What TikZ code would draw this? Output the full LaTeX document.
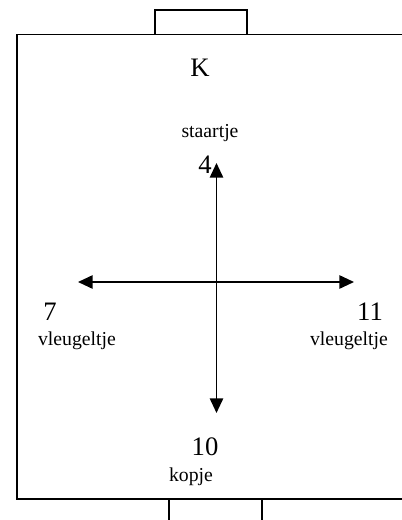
\documentclass[tikz,border=0pt]{standalone}
\usepackage{fontspec}
\setmainfont{Liberation Serif}
\usetikzlibrary{arrows.meta, positioning}

\begin{document}
\begin{tikzpicture}[
            x=0.75pt, y=-0.75pt,
            % outline of the box and its two tabs
            frame/.style={draw, line width=1.4pt},
            bignum/.style={inner sep=0pt, font=\fontsize{20}{24}\selectfont},
            smalltext/.style={inner sep=0pt, font=\fontsize{14.8}{17}\selectfont},
            arrow/.style={{Triangle[length=11pt,width=10pt]}-{Triangle[length=11pt,width=10pt]}, line width=1.3pt}
        ]
        \useasboundingbox (0,0) rectangle (401,520);

        % Box
        \draw[frame] (410,34.5) -- (17,34.5) -- (17,499) -- (410,499);
        \draw[frame] (155,34.5) -- (155,10) -- (247,10) -- (247,34.5);
        \draw[frame] (169,499) -- (169,530);
        \draw[frame] (262,499) -- (262,530);

        % Letter
        \node[bignum] (k) at (200,68) {K};

        % Ends
        \node[smalltext] (staart) at (210,133) {staartje};
        \node[bignum] (vier) at (205,165) {4};
        \node[bignum] (zeven) at (50,312) {7};
        \node[smalltext] (vleugL) at (77,341) {vleugeltje};
        \node[bignum] (elf) at (370,312) {11};
        \node[smalltext] (vleugR) at (349,341) {vleugeltje};
        \node[bignum] (tien) at (205,447) {10};
        \node[smalltext] (kop) at (191,477) {kopje};

        % Arrow tips
        \coordinate (top) at (216.5,163);
        \coordinate (bottom) at (216.5,413);
        \coordinate (left) at (78,282);
        \coordinate (right) at (354,282);

        % Arrows
        \draw[arrow] (bottom) -- (top);
        \draw[arrow] (left) -- (right);

        \end{tikzpicture}
\end{document}
